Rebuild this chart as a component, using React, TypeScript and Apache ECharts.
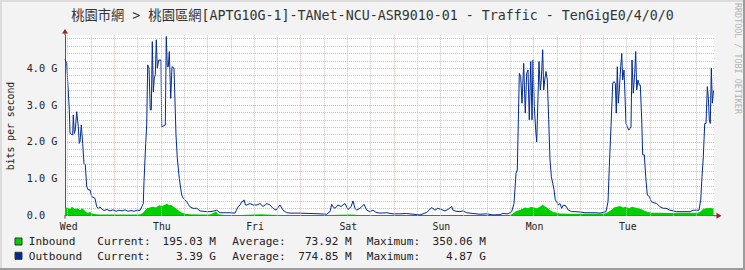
import React, { useEffect, useRef } from "react";
import * as echarts from "echarts";

// ---------- data ----------
const TITLE = "桃園市網 > 桃園區網[APTG10G-1]-TANet-NCU-ASR9010-01 - Traffic - TenGigE0/4/0/0";
const Y_UNIT = "bits per second";
const WATERMARK = "RRDTOOL / TOBI OETIKER";
const DAY_NAMES = ["Wed", "Thu", "Fri", "Sat", "Sun", "Mon", "Tue"];
const FIRST_MIDNIGHT_H = 0.7; // hours after graph start
const SPAN_H = 167.18; // hours shown
const Y_MAX = 4.9; // Gbps
const Y_STEP = 0.2;

// [hours since graph start, Gbps]
const outbound: [number, number][] = [
  [0,4.24],[0.44,4.13],[0.59,4.13],[1.11,2.87],[1.29,2.23],[1.98,2.19],[2.14,2.73],[2.40,2.23],[2.65,2.32],[3.01,2.82],[3.43,2.41],[3.68,1.96],[3.86,2.00],[4.20,2.46],[4.56,1.96],[4.89,1.42],[5.23,1.38],[5.59,0.79],[6.00,0.70],[6.44,0.70],[6.88,0.52],[7.73,0.47],[8.17,0.24],[8.58,0.20],[9.02,0.24],[9.45,0.18],[10.05,0.14],[10.82,0.17],[11.59,0.13],[12.36,0.16],[13.14,0.12],[13.91,0.15],[14.68,0.13],[15.46,0.16],[16.23,0.12],[17.00,0.14],[17.77,0.12],[18.55,0.15],[19.32,0.14],[19.76,0.24],[20.17,0.33],[20.35,0.92],[20.79,1.96],[21.05,2.46],[21.30,4.09],[21.64,4.00],[21.97,2.87],[22.23,2.87],[22.49,4.72],[22.75,3.36],[23.00,3.73],[23.26,3.82],[23.52,4.77],[23.78,4.00],[24.14,4.22],[24.73,4.22],[24.91,2.41],[25.84,2.46],[26.09,4.86],[26.35,4.04],[26.61,4.04],[26.87,4.45],[27.23,3.18],[27.56,4.04],[28.08,4.00],[28.59,2.19],[28.93,1.56],[29.44,1.01],[30.06,0.56],[30.47,0.47],[30.91,0.43],[31.35,0.38],[31.81,0.30],[32.20,0.24],[32.97,0.20],[33.93,0.20],[34.78,0.13],[35.55,0.12],[36.50,0.11],[37.35,0.11],[38.12,0.12],[39.08,0.15],[39.93,0.08],[41.22,0.08],[42.50,0.08],[43.79,0.07],[44.57,0.24],[45.08,0.29],[45.52,0.38],[45.85,0.38],[46.11,0.43],[46.50,0.29],[46.88,0.29],[47.66,0.33],[48.43,0.29],[49.46,0.29],[50.23,0.33],[51.00,0.25],[52.03,0.33],[52.81,0.29],[53.58,0.20],[54.35,0.15],[55.38,0.29],[56.16,0.15],[57.11,0.08],[57.96,0.07],[60.54,0.07],[63.11,0.06],[65.69,0.05],[67.41,0.04],[68.26,0.11],[68.70,0.31],[69.04,0.24],[69.55,0.20],[70.32,0.29],[71.10,0.25],[72.13,0.33],[72.90,0.17],[73.67,0.24],[74.19,0.40],[74.70,0.20],[75.14,0.15],[76.25,0.22],[77.02,0.31],[77.72,0.15],[78.57,0.11],[79.34,0.15],[80.11,0.09],[81.14,0.07],[82.87,0.08],[84.49,0.05],[86.29,0.05],[88.02,0.06],[89.64,0.04],[91.45,0.02],[93.17,0.09],[94.46,0.22],[95.31,0.15],[95.96,0.20],[96.60,0.18],[97.89,0.13],[98.66,0.17],[99.61,0.25],[99.95,0.15],[100.72,0.12],[101.75,0.11],[102.52,0.13],[103.48,0.08],[105.10,0.06],[106.90,0.04],[108.63,0.05],[110.25,0.02],[112.06,0.03],[112.83,0.06],[114.12,0.05],[115.07,0.11],[115.66,0.33],[116.18,1.15],[116.51,1.24],[117.03,3.86],[117.39,3.77],[117.72,3.05],[118.16,4.13],[118.57,2.78],[118.93,3.86],[119.27,3.95],[119.60,2.60],[119.97,4.18],[120.30,2.60],[120.56,4.22],[120.89,2.96],[121.25,2.32],[121.51,2.00],[121.85,3.23],[122.10,4.18],[122.44,3.41],[122.69,3.68],[123.05,4.50],[123.31,3.41],[123.57,3.68],[123.91,3.91],[124.24,3.68],[124.60,2.60],[124.94,1.51],[125.28,1.06],[125.64,0.88],[125.97,0.70],[126.30,0.43],[126.66,0.38],[127.08,0.29],[127.51,0.33],[127.95,0.20],[128.36,0.29],[129.06,0.26],[129.65,0.15],[130.53,0.11],[131.63,0.11],[132.66,0.10],[133.95,0.08],[135.24,0.08],[136.53,0.08],[137.82,0.07],[139.36,0.11],[139.88,0.38],[140.21,1.33],[140.65,2.42],[141.09,3.59],[141.42,3.64],[141.76,3.59],[142.01,2.78],[142.27,4.04],[142.53,3.05],[142.79,3.41],[143.15,4.04],[143.41,4.40],[143.66,3.68],[144.00,3.95],[144.26,3.23],[144.51,2.50],[144.85,2.41],[145.21,2.32],[145.54,2.37],[145.80,2.41],[146.06,4.22],[146.39,3.32],[146.75,3.86],[147.01,4.45],[147.27,3.41],[147.60,3.68],[147.94,3.54],[148.20,3.54],[148.56,2.60],[148.81,1.65],[149.23,1.65],[149.59,1.06],[150.00,0.56],[150.52,0.52],[151.03,0.38],[151.73,0.35],[152.42,0.33],[153.27,0.24],[154.12,0.20],[154.82,0.20],[155.85,0.15],[156.62,0.13],[157.58,0.11],[159.20,0.11],[161.00,0.11],[161.77,0.15],[162.73,0.15],[163.32,0.15],[163.76,0.43],[164.09,1.06],[164.43,1.60],[164.79,2.50],[165.12,2.50],[165.46,3.50],[165.71,3.23],[165.97,2.60],[166.23,2.50],[166.49,4.00],[166.75,3.05],[167.06,3.39]
];

const inbound: [number, number][] = [
  [0,0.20],[0.52,0.22],[1.29,0.18],[1.80,0.24],[2.58,0.18],[3.35,0.20],[3.86,0.15],[4.38,0.20],[4.89,0.16],[5.41,0.10],[5.92,0.08],[6.44,0.10],[7.21,0.05],[7.99,0.04],[9.02,0.03],[11.59,0.03],[14.17,0.03],[16.74,0.03],[19.32,0.03],[20.09,0.08],[20.61,0.15],[21.12,0.20],[21.90,0.22],[22.67,0.24],[23.44,0.22],[24.21,0.28],[24.99,0.26],[25.76,0.30],[26.28,0.33],[26.79,0.28],[27.31,0.30],[27.82,0.25],[28.59,0.20],[29.37,0.13],[30.14,0.08],[30.91,0.05],[32.20,0.04],[34.78,0.03],[37.35,0.03],[38.38,0.08],[38.90,0.12],[39.41,0.04],[41.22,0.02],[45.08,0.02],[48.94,0.03],[50.23,0.04],[51.52,0.03],[55.38,0.02],[60.54,0.01],[68.26,0.02],[73.42,0.03],[75.99,0.02],[86.29,0.01],[99.17,0.01],[112.06,0.01],[114.63,0.02],[115.40,0.06],[116.18,0.12],[116.95,0.15],[117.72,0.18],[118.50,0.22],[119.27,0.20],[120.04,0.24],[120.82,0.22],[121.59,0.20],[122.36,0.24],[123.05,0.30],[123.65,0.25],[124.42,0.20],[124.94,0.15],[125.71,0.10],[126.74,0.08],[127.51,0.06],[130.09,0.05],[132.66,0.05],[135.24,0.05],[137.82,0.05],[139.10,0.06],[139.88,0.10],[140.65,0.15],[141.42,0.22],[142.20,0.24],[142.97,0.26],[143.74,0.22],[144.51,0.24],[145.29,0.20],[146.06,0.24],[146.83,0.22],[147.60,0.20],[148.38,0.18],[149.41,0.13],[150.18,0.10],[151.21,0.08],[153.27,0.08],[155.85,0.07],[158.43,0.08],[161.00,0.08],[163.06,0.08],[163.83,0.12],[164.35,0.18],[165.12,0.20],[166.15,0.21],[167.06,0.195]
];

const LEGEND_NAMES = ["Inbound", "Outbound"];
const LEGEND_CURRENT = ["195.03 M", "3.39 G"];
const LEGEND_AVERAGE = ["73.92 M", "774.85 M"];
const LEGEND_MAXIMUM = ["350.06 M", "4.87 G"];

// ---------- styles ----------
const IN_COLOR = "#00CF00";
const OUT_COLOR = "#002A97";
const MAJOR_GRID = "#f0a8a8";
const MINOR_GRID = "#c4c4c4";
const TEXT = "#222";
const MONO = '"DejaVu Sans Mono", monospace';
const ARROW = "#9a2222";

export default function App() {
  const ref = useRef<HTMLDivElement>(null);

  useEffect(() => {
    const chart = echarts.init(ref.current!, null, { renderer: "svg", width: 745, height: 270 });

    const minorHours: number[] = [];
    const majorHours: number[] = [];
    for (let k = 0; FIRST_MIDNIGHT_H + 6 * k < SPAN_H; k++) {
      const h = FIRST_MIDNIGHT_H + 6 * k;
      (k % 4 === 2 ? majorHours : minorHours).push(h);
    }
    const nTicks = Math.floor(Y_MAX / Y_STEP + 1e-9) + 2;
    const ySplitColors: string[] = [];
    for (let i = 0; i < nTicks; i++) {
      ySplitColors.push(i === nTicks - 1 ? "rgba(0,0,0,0)" : i % 5 === 0 ? MAJOR_GRID : MINOR_GRID);
    }

    const gridLines = [
      ...minorHours.map((h) => ({ xAxis: h, lineStyle: { color: MINOR_GRID, type: [1, 1], width: 1 } })),
      ...majorHours.map((h) => ({ xAxis: h, lineStyle: { color: MAJOR_GRID, type: [1, 1], width: 1 } })),
    ];

    chart.setOption({
      animation: false,
      backgroundColor: "#f3f3f3",
      grid: { left: 65, top: 35, width: 649, height: 180.7, show: true, backgroundColor: "#ffffff", borderWidth: 0 },
      xAxis: {
        type: "value",
        min: 0,
        max: SPAN_H,
        axisLine: { show: true, lineStyle: { color: "#555", width: 1 } },
        axisTick: { show: false },
        axisLabel: { show: false },
        splitLine: { show: false },
      },
      yAxis: {
        type: "value",
        min: 0,
        max: Y_MAX,
        interval: Y_STEP,
        axisLine: { show: true, lineStyle: { color: "#555", width: 1 } },
        axisTick: { show: false },
        axisLabel: {
          align: "left",
          margin: 38.3,
          fontFamily: MONO,
          fontSize: 10.2,
          color: TEXT,
          formatter: (v: number) => {
            if (Math.abs(v - Math.round(v)) > 1e-6) return "";
            if (Math.round(v) === 0) return "0.0";
            return Math.round(v).toFixed(1) + " G";
          },
        },
        splitLine: { show: true, lineStyle: { color: ySplitColors, type: [1, 1], width: 1 } },
      },
      series: [
        {
          type: "line",
          name: "Inbound",
          data: inbound,
          showSymbol: false,
          symbol: "none",
          lineStyle: { width: 0 },
          areaStyle: { color: IN_COLOR, opacity: 1 },
          itemStyle: { color: IN_COLOR },
          z: 2,
          markLine: {
            silent: true,
            symbol: ["none", "none"],
            label: { show: false },
            data: gridLines,
            animation: false,
          },
        },
        {
          type: "line",
          name: "Outbound",
          data: outbound,
          showSymbol: false,
          symbol: "none",
          lineStyle: { color: OUT_COLOR, width: 1 },
          itemStyle: { color: OUT_COLOR },
          z: 3,
        },
      ],
    });

    const baseY = chart.convertToPixel({ yAxisIndex: 0 }, 0) as number;
    const topY = chart.convertToPixel({ yAxisIndex: 0 }, Y_MAX) as number;
    const leftX = chart.convertToPixel({ xAxisIndex: 0 }, 0) as number;
    const rightX = chart.convertToPixel({ xAxisIndex: 0 }, SPAN_H) as number;

    const dayLabels = DAY_NAMES.map((name, i) => ({
      type: "text",
      z: 50,
      x: (chart.convertToPixel({ xAxisIndex: 0 }, FIRST_MIDNIGHT_H + 24 * i) as number) + 1,
      y: baseY + 10.5,
      style: { text: name, fontFamily: MONO, fontSize: 9.8, fill: TEXT, align: "center", verticalAlign: "middle" },
    }));

    const rowY = [241.7, 256];
    const legend: any[] = [];
    LEGEND_NAMES.forEach((name, i) => {
      const y = rowY[i];
      const st = { fontFamily: MONO, fontSize: 11.1, fill: TEXT, verticalAlign: "middle" };
      legend.push({
        type: "rect", z: 50,
        shape: { x: 15, y: y - 3.7, width: 7, height: 7 },
        style: { fill: i === 0 ? IN_COLOR : OUT_COLOR, stroke: "#333", lineWidth: 1 },
      });
      legend.push({ type: "text", z: 50, x: 28.7, y, style: { ...st, text: name, align: "left" } });
      legend.push({ type: "text", z: 50, x: 97.3, y, style: { ...st, text: "Current:", align: "left" } });
      legend.push({ type: "text", z: 50, x: 216, y, style: { ...st, text: LEGEND_CURRENT[i], align: "right" } });
      legend.push({ type: "text", z: 50, x: 232.3, y, style: { ...st, text: "Average:", align: "left" } });
      legend.push({ type: "text", z: 50, x: 351.7, y, style: { ...st, text: LEGEND_AVERAGE[i], align: "right" } });
      legend.push({ type: "text", z: 50, x: 366.7, y, style: { ...st, text: "Maximum:", align: "left" } });
      legend.push({ type: "text", z: 50, x: 486, y, style: { ...st, text: LEGEND_MAXIMUM[i], align: "right" } });
    });

    chart.setOption({
      graphic: [
        // frame
        { type: "rect", z: 60, shape: { x: 0, y: 0, width: 745, height: 2 }, style: { fill: "#dcdcdc" } },
        { type: "rect", z: 60, shape: { x: 0, y: 0, width: 2, height: 270 }, style: { fill: "#dcdcdc" } },
        { type: "rect", z: 60, shape: { x: 743, y: 0, width: 2, height: 270 }, style: { fill: "#9c9c9c" } },
        { type: "rect", z: 60, shape: { x: 0, y: 268, width: 745, height: 2 }, style: { fill: "#9c9c9c" } },
        // title
        {
          type: "text", z: 50, x: 372.5, y: 15,
          style: { text: TITLE, fontFamily: '"DejaVu Sans Mono", "Noto Sans CJK TC", monospace', fontSize: 13.3, fill: "#333", align: "center", verticalAlign: "middle" },
        },
        // unit label
        {
          type: "text", z: 50, x: 10.5, y: 126, rotation: Math.PI / 2,
          style: { text: Y_UNIT, fontFamily: MONO, fontSize: 9.8, fill: TEXT, align: "center", verticalAlign: "middle" },
        },
        // watermark
        {
          type: "text", z: 50, x: 737.5, y: 58.5, rotation: -Math.PI / 2,
          style: { text: WATERMARK, fontFamily: MONO, fontSize: 8.4, fill: "#b4b4b4", align: "center", verticalAlign: "middle" },
        },
        // axis extensions and arrows
        { type: "line", z: 55, shape: { x1: leftX, y1: topY, x2: leftX, y2: topY - 2 }, style: { stroke: "#555", lineWidth: 1 } },
        { type: "line", z: 55, shape: { x1: leftX, y1: baseY, x2: leftX, y2: baseY + 3 }, style: { stroke: "#555", lineWidth: 1 } },
        { type: "line", z: 55, shape: { x1: rightX, y1: baseY, x2: rightX + 3, y2: baseY }, style: { stroke: "#555", lineWidth: 1 } },
        {
          type: "polygon", z: 56,
          shape: { points: [[leftX - 3, topY - 1.5], [leftX + 3, topY - 1.5], [leftX, topY - 6]] },
          style: { fill: ARROW },
        },
        {
          type: "polygon", z: 56,
          shape: { points: [[rightX + 2.5, baseY - 3], [rightX + 2.5, baseY + 3], [rightX + 7.5, baseY]] },
          style: { fill: ARROW },
        },
        ...dayLabels,
        ...legend,
      ],
    });

    return () => chart.dispose();
  }, []);

  return <div ref={ref} style={{ position: "fixed", left: 0, top: 0, width: 745, height: 270 }} />;
}
